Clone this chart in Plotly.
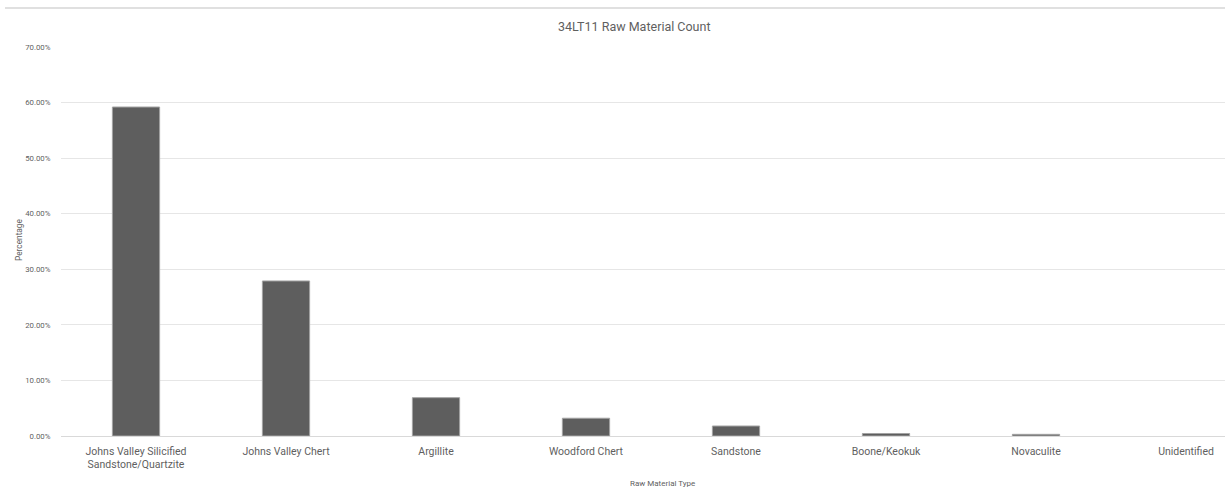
import plotly.graph_objects as go

# Raw material shares for site 34LT11
categories = [
    "Johns Valley Silicified<br>Sandstone/Quartzite",
    "Johns Valley Chert",
    "Argillite",
    "Woodford Chert",
    "Sandstone",
    "Boone/Keokuk",
    "Novaculite",
    "Unidentified",
]
percentages = [59.2, 27.9, 6.9, 3.2, 1.8, 0.45, 0.3, 0.0]
y_ticks = [0, 10, 20, 30, 40, 50, 60, 70]

W, H = 1228, 491
L, R, T, B = 61, 3, 47, 55
plot_w = W - L - R
plot_h = H - T - B
slot_px = 150  # width of one category slot in pixels


def px_x(x):
    return (x - L) / plot_w


def px_y(y):
    return (H - B - y) / plot_h


text_col = "#5f5f5f"
font_family = "Roboto, 'Open Sans', sans-serif"

# empty categories get no outline so nothing is drawn on the baseline
outline_widths = [1 if v > 0 else 0 for v in percentages]

fig = go.Figure(
    go.Bar(
        x=list(range(len(categories))),
        y=percentages,
        width=0.315,
        marker=dict(color="#5e5e5e", line=dict(color="#a3a3a3", width=outline_widths)),
        hoverinfo="skip",
    )
)

fig.update_layout(
    width=W,
    height=H,
    margin=dict(l=L, r=R, t=T, b=B),
    paper_bgcolor="white",
    plot_bgcolor="white",
    showlegend=False,
    font=dict(family=font_family, color=text_col),
    xaxis=dict(
        range=[-0.5, -0.5 + plot_w / slot_px],
        tickmode="array",
        tickvals=list(range(len(categories))),
        ticktext=categories,
        tickfont=dict(size=10.5, color=text_col),
        showgrid=False,
        showline=True,
        linecolor="#d9d9d9",
        linewidth=1,
        ticks="outside",
        ticklen=5,
        tickcolor="rgba(0,0,0,0)",
        zeroline=False,
        fixedrange=True,
    ),
    yaxis=dict(
        range=[0, 70],
        tickmode="array",
        tickvals=y_ticks,
        ticktext=[f"{v:.2f}%" for v in y_ticks],
        tickfont=dict(size=7.8, color=text_col),
        showgrid=True,
        gridcolor="#e6e6e6",
        gridwidth=1,
        zeroline=False,
        showline=False,
        ticks="outside",
        ticklen=8,
        tickcolor="rgba(0,0,0,0)",
        fixedrange=True,
    ),
    shapes=[
        dict(
            type="line",
            xref="paper",
            yref="paper",
            x0=px_x(5),
            x1=px_x(1225),
            y0=px_y(8),
            y1=px_y(8),
            line=dict(color="#d6d6d6", width=1.5),
        )
    ],
    annotations=[
        dict(
            text="34LT11 Raw Material Count",
            xref="paper",
            yref="paper",
            x=px_x(634),
            y=px_y(26.5),
            showarrow=False,
            font=dict(size=12.5, color=text_col),
            xanchor="center",
            yanchor="middle",
        ),
        dict(
            text="Percentage",
            xref="paper",
            yref="paper",
            x=px_x(19),
            y=px_y(240),
            textangle=-90,
            showarrow=False,
            font=dict(size=8.3, color=text_col),
            xanchor="center",
            yanchor="middle",
        ),
        dict(
            text="Raw Material Type",
            xref="paper",
            yref="paper",
            x=px_x(662),
            y=px_y(484),
            showarrow=False,
            font=dict(size=8, color=text_col),
            xanchor="center",
            yanchor="middle",
        ),
    ],
)

fig.write_html("out.html")
